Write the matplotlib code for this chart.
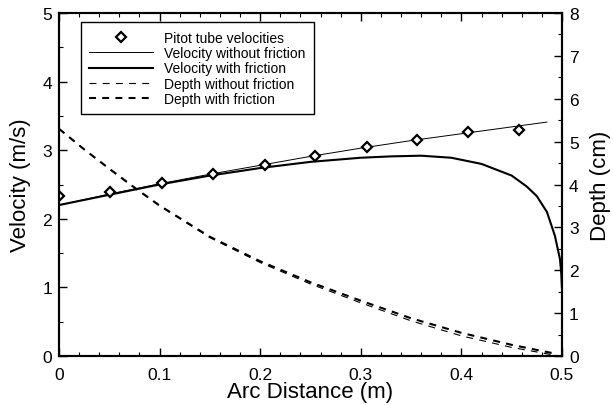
"""Velocity and depth along the arc, with and without friction."""

import matplotlib

matplotlib.use("Agg")
import matplotlib.pyplot as plt
from matplotlib.ticker import FormatStrFormatter, MultipleLocator

plt.rcParams["font.family"] = ["Liberation Sans", "DejaVu Sans"]
plt.rcParams["lines.scale_dashes"] = False

# Pitot tube measurements
pitot_x = [0.0, 0.051, 0.102, 0.153, 0.205, 0.254, 0.306, 0.356, 0.407, 0.457]
pitot_v = [2.33, 2.39, 2.52, 2.65, 2.78, 2.92, 3.05, 3.15, 3.27, 3.29]

# velocity without friction
vnf_x = [0.0, 0.05, 0.1, 0.15, 0.2, 0.25, 0.3, 0.35, 0.4, 0.45, 0.485]
vnf_v = [2.2, 2.36, 2.51, 2.65, 2.78, 2.91, 3.03, 3.14, 3.24, 3.34, 3.41]

# velocity with friction
vf_x = [0.0, 0.05, 0.1, 0.15, 0.2, 0.25, 0.3, 0.33, 0.36, 0.39, 0.42,
        0.45, 0.465, 0.475, 0.485, 0.493, 0.498, 0.4993, 0.4999]
vf_v = [2.2, 2.35, 2.5, 2.63, 2.74, 2.83, 2.89, 2.91, 2.92, 2.89, 2.80,
        2.63, 2.47, 2.33, 2.10, 1.75, 1.41, 1.2, 1.0]

# depth (cm)
depth_x = [0.0, 0.025, 0.05, 0.075, 0.1, 0.15, 0.2, 0.25, 0.3, 0.35, 0.4, 0.45, 0.49]
depth_nf = [5.3, 4.82, 4.36, 3.92, 3.50, 2.76, 2.18, 1.68, 1.24, 0.82, 0.47, 0.2, 0.03]
depth_f = [5.3, 4.82, 4.37, 3.93, 3.51, 2.78, 2.21, 1.72, 1.29, 0.88, 0.54, 0.26, 0.07]


def main() -> None:
    fig = plt.figure(figsize=(6.13, 4.06), dpi=100)
    ax = fig.add_axes([0.0962, 0.1207, 0.8206, 0.8448])
    ax2 = ax.twinx()

    h1, = ax.plot(pitot_x, pitot_v, linestyle="none", marker="D", markersize=5.5,
                  markerfacecolor="white", markeredgecolor="black",
                  markeredgewidth=1.6, zorder=5, label="Pitot tube velocities")
    h2, = ax.plot(vnf_x, vnf_v, color="black", lw=0.7,
                  label="Velocity without friction")
    h3, = ax.plot(vf_x, vf_v, color="black", lw=1.5,
                  label="Velocity with friction")
    h4, = ax2.plot(depth_x, depth_nf, color="black", lw=0.8,
                   dashes=(5, 4.5), label="Depth without friction")
    h5, = ax2.plot(depth_x, depth_f, color="black", lw=1.5,
                   dashes=(5, 4.5), label="Depth with friction")

    ax.set_xlim(0, 0.5)
    ax.set_ylim(0, 5)
    ax2.set_ylim(0, 8)

    ax.xaxis.set_major_locator(MultipleLocator(0.1))
    ax.xaxis.set_minor_locator(MultipleLocator(0.02))
    ax.xaxis.set_major_formatter(FormatStrFormatter("%g"))
    ax.yaxis.set_major_locator(MultipleLocator(1))
    ax.yaxis.set_minor_locator(MultipleLocator(0.5))
    ax2.yaxis.set_major_locator(MultipleLocator(1))
    ax2.yaxis.set_minor_locator(MultipleLocator(0.5))

    ax.tick_params(axis="x", which="both", direction="in", top=True,
                   labelsize=12.5, pad=8)
    ax.tick_params(axis="y", which="both", direction="in", right=False,
                   labelsize=12.5, pad=5)
    ax2.tick_params(axis="y", which="both", direction="in", labelsize=12.5, pad=5)
    for a in (ax, ax2):
        a.tick_params(which="major", length=6, width=1)
        a.tick_params(which="minor", length=3, width=0.8)
    for s in ax.spines.values():
        s.set_linewidth(1.5)
    for s in ax2.spines.values():
        s.set_linewidth(1.5)

    ax.set_xlabel("Arc Distance (m)", fontsize=16, labelpad=-1)
    ax.set_ylabel("Velocity (m/s)", fontsize=16, labelpad=8)
    ax2.set_ylabel("Depth (cm)", fontsize=16, labelpad=8)

    leg = ax2.legend(handles=[h1, h2, h3, h4, h5], loc="upper left",
                     bbox_to_anchor=(0.043, 0.973), fontsize=10,
                     handlelength=4.6, labelspacing=0.1, borderpad=0.6,
                     handletextpad=0.8, fancybox=False, framealpha=1,
                     edgecolor="black", borderaxespad=0)
    leg.get_frame().set_linewidth(1.0)

    fig.savefig("out.png", dpi=100)


if __name__ == "__main__":
    main()
